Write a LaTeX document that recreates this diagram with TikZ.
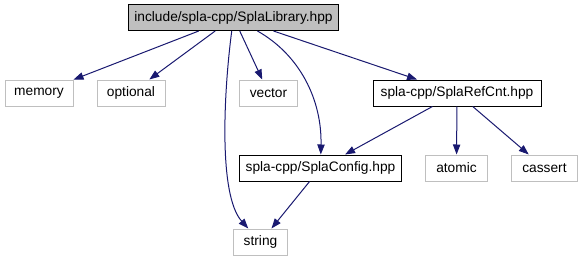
\documentclass[tikz,border=0pt]{standalone}
\usepackage{fontspec}
\setmainfont{Liberation Sans}
\usetikzlibrary{arrows.meta}
\definecolor{edgeblue}{HTML}{191970}
\definecolor{boxgray}{HTML}{BFBFBF}
\tikzset{
    file/.style={draw=black, line width=0.75pt, minimum height=19.5pt, inner sep=0pt, font=\fontsize{10.3}{12}\selectfont},
    sysfile/.style={file, draw=boxgray},
    inc/.style={draw=edgeblue, line width=0.75pt, -{Triangle[length=7.5pt,width=5.5pt]}}
}
\begin{document}
\begin{tikzpicture}[x=0.75pt,y=-0.75pt]
    \useasboundingbox (0,0) rectangle (583,261);
    \node[file, fill=boxgray, minimum width=158pt] (lib) at (233.5,17.5) {include/spla-cpp/SplaLibrary.hpp};
    \node[sysfile, minimum width=51pt] (memory) at (39,93) {memory};
    \node[sysfile, minimum width=51pt] (optional) at (131,93) {optional};
    \node[sysfile, minimum width=44pt] (vector) at (268.5,93) {vector};
    \node[file, minimum width=126pt] (refcnt) at (457,93) {spla-cpp/SplaRefCnt.hpp};
    \node[file, minimum width=122pt] (config) at (320.5,168) {spla-cpp/SplaConfig.hpp};
    \node[sysfile, minimum width=46pt] (atomic) at (456.5,168) {atomic};
    \node[sysfile, minimum width=49pt] (cassert) at (544.5,168) {cassert};
    \node[sysfile, minimum width=41pt] (string) at (260.5,242) {string};
    \draw[inc] (lib) -- (memory);
    \draw[inc] (lib) -- (optional);
    \draw[inc] (lib) .. controls (224,90) and (218,195) .. (string);
    \draw[inc] (lib) -- (vector);
    \draw[inc] (lib) .. controls (300,55) and (322,100) .. (config);
    \draw[inc] (lib) -- (refcnt);
    \draw[inc] (refcnt) -- (config);
    \draw[inc] (refcnt) -- (atomic);
    \draw[inc] (refcnt) -- (cassert);
    \draw[inc] (config) -- (string);
\end{tikzpicture}
\end{document}
